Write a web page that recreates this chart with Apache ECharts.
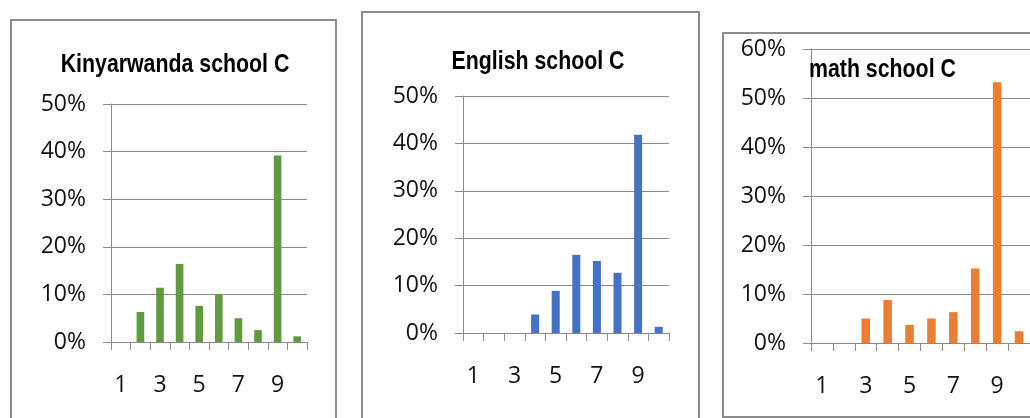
<!DOCTYPE html>
<html>
<head>
<meta charset="utf-8">
<script src="https://cdn.jsdelivr.net/npm/echarts@6.0.0/dist/echarts.min.js"></script>
<style>
    html, body { margin: 0; padding: 0; background: #fff; }
    #main { width: 1030px; height: 418px; }
</style>
</head>
<body>
<div id="main"></div>
<script>
// grades 1..10, share of pupils (%)
const categories = ['1', '2', '3', '4', '5', '6', '7', '8', '9', '10']
const kinyarwanda = [0, 6.3, 11.4, 16.4, 7.6, 10.0, 5.0, 2.5, 39.2, 1.2]
const english = [0, 0, 0, 3.9, 8.9, 16.5, 15.2, 12.7, 41.8, 1.3]
const math = [0, 0, 5.0, 8.8, 3.7, 5.0, 6.3, 15.2, 53.2, 2.4]
const titles = ['Kinyarwanda school C', 'English school C', 'math school C']
const yMax = [50, 50, 60]

const gray = '#898989'
const tickFont = { fontFamily: 'Open Sans', fontSize: 23, color: '#111' }

function xAxisFor(i) {
    return {
        type: 'category',
        gridIndex: i,
        data: categories,
        axisLine: { show: true, lineStyle: { color: gray, width: 1 } },
        axisTick: { show: true, interval: 0, length: 8, lineStyle: { color: gray } },
        axisLabel: Object.assign({ interval: 1, margin: 32 }, tickFont)
    }
}

function yAxisFor(i) {
    return {
        type: 'value',
        gridIndex: i,
        min: 0,
        max: yMax[i],
        interval: 10,
        axisLine: { show: true, lineStyle: { color: gray, width: 1 } },
        axisTick: { show: true, length: 8, lineStyle: { color: gray } },
        splitLine: { show: true, lineStyle: { color: gray, width: 1 } },
        axisLabel: Object.assign({ margin: 25, formatter: '{value}%' }, tickFont)
    }
}

function barSeries(i, data, color) {
    return {
        type: 'bar',
        xAxisIndex: i,
        yAxisIndex: i,
        data: data,
        barWidth: '39%',
        itemStyle: { color: color },
        animation: false
    }
}

// the titles are a condensed bold face, no narrow font here so squeeze Liberation Sans
function titleText(text, x, y, align) {
    return {
        type: 'text',
        x: x,
        y: y,
        scaleX: 0.82,
        z: 10,
        style: {
            text: text,
            fontFamily: 'Liberation Sans',
            fontWeight: 'bold',
            fontSize: 26,
            fill: '#000',
            align: align,
            verticalAlign: 'middle'
        }
    }
}

function frame(x, y, w, h) {
    return {
        type: 'rect',
        shape: { x: x, y: y, width: w, height: h },
        style: { fill: null, stroke: '#8c8c8c', lineWidth: 2 }
    }
}

let myChart = echarts.init(document.getElementById('main'))
myChart.setOption({
    animation: false,
    graphic: [
        frame(11, 20, 325, 420),
        frame(362, 12, 337, 420),
        frame(723, 33, 330, 384),
        titleText(titles[0], 175, 65, 'center'),
        titleText(titles[1], 538, 62, 'center'),
        titleText(titles[2], 809, 70, 'left')
    ],
    grid: [
        { left: 111, top: 104, width: 196, height: 238 },
        { left: 463, top: 96, width: 206, height: 237 },
        { left: 811, top: 49, width: 231, height: 294 }
    ],
    xAxis: [xAxisFor(0), xAxisFor(1), xAxisFor(2)],
    yAxis: [yAxisFor(0), yAxisFor(1), yAxisFor(2)],
    series: [
        barSeries(0, kinyarwanda, '#629b3f'),
        barSeries(1, english, '#4472c4'),
        barSeries(2, math, '#ed7d31')
    ]
})
</script>
</body>
</html>
